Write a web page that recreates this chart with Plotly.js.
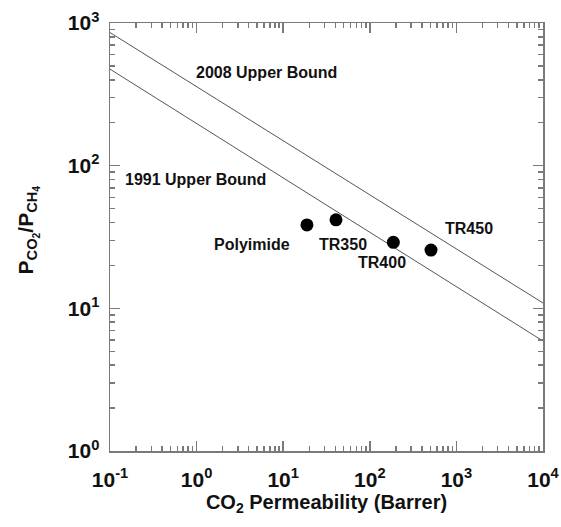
<!DOCTYPE html>
<html>
<head>
<meta charset="utf-8">
<script src="https://cdn.plot.ly/plotly-3.0.1.min.js"></script>
<style>
  html, body { margin: 0; padding: 0; background: #fff; }
  #chart { width: 561px; height: 527px; }
</style>
</head>
<body>
<div id="chart"></div>
<script>
// CO2/CH4 selectivity versus CO2 permeability (log-log)
const membranes = ['Polyimide', 'TR350', 'TR400', 'TR450'];
const permeability = [18.8, 40.7, 187, 509];     // Barrer
const selectivity = [38.4, 41.7, 29.0, 25.6];    // P_CO2 / P_CH4

// Upper bound lines, end points across the plotted permeability range
const boundPerm = [0.1, 10000];
const bound2008 = [857, 10.9];
const bound1991 = [475, 5.9];

// Label positions (data units)
const labelText = ['2008 Upper Bound', '1991 Upper Bound', 'Polyimide', 'TR350', 'TR400', 'TR450'];
const labelX = [6.33, 0.97, 4.37, 48.4, 137, 1416];
const labelY = [447, 79.4, 27.8, 27.8, 20.8, 36.0];

const xTickVals = [0.1, 1, 10, 100, 1000, 10000];
const xTickText = ['10<sup>-1</sup>', '10<sup>0</sup>', '10<sup>1</sup>', '10<sup>2</sup>', '10<sup>3</sup>', '10<sup>4</sup>'];
const yTickVals = [1, 10, 100, 1000];
const yTickText = ['10<sup>0</sup>', '10<sup>1</sup>', '10<sup>2</sup>', '10<sup>3</sup>'];

const FONT = 'Arial, "Liberation Sans", sans-serif';
const AXIS_GREY = '#7a7a7a';

const traces = [
  {
    x: boundPerm, y: bound2008, mode: 'lines', type: 'scatter',
    line: { color: '#555', width: 1 }, hoverinfo: 'skip', showlegend: false
  },
  {
    x: boundPerm, y: bound1991, mode: 'lines', type: 'scatter',
    line: { color: '#555', width: 1 }, hoverinfo: 'skip', showlegend: false
  },
  {
    x: permeability, y: selectivity, text: membranes, mode: 'markers', type: 'scatter',
    marker: { color: '#000', size: 13 }, showlegend: false
  }
];

const annotations = labelText.map((t, i) => ({
  x: Math.log10(labelX[i]), y: Math.log10(labelY[i]), xref: 'x', yref: 'y',
  text: t, showarrow: false,
  font: { family: FONT, size: 16, color: '#111', weight: 'bold' }
}));

// Vertical y-axis title
annotations.push({
  xref: 'paper', yref: 'paper', x: -0.19, y: 0.517,
  xanchor: 'center', yanchor: 'middle', textangle: -90, showarrow: false,
  text: 'P<sub>CO<sub>2</sub></sub>/P<sub>CH<sub>4</sub></sub>',
  font: { family: FONT, size: 21, color: '#111', weight: 'bold' }
});

const minorCommon = { dtick: 'D1', ticks: 'inside', ticklen: 5, tickwidth: 1.5, tickcolor: AXIS_GREY, showgrid: false };

const axisCommon = {
  type: 'log',
  showgrid: false, zeroline: false,
  showline: true, linecolor: AXIS_GREY, linewidth: 1.5, mirror: 'ticks',
  ticks: 'inside', ticklen: 10, tickwidth: 1.5, tickcolor: AXIS_GREY,
  tickmode: 'array',
  tickfont: { family: FONT, size: 21, color: '#111', weight: 'bold' },
  minor: minorCommon
};

const layout = {
  width: 561, height: 527,
  margin: { l: 110, r: 18, t: 23, b: 76 },
  paper_bgcolor: '#fff', plot_bgcolor: '#fff',
  xaxis: Object.assign({}, axisCommon, {
    range: [-1, 4],
    tickvals: xTickVals, ticktext: xTickText,
    ticklabelstandoff: 9,
    title: { text: 'CO<sub>2</sub> Permeability (Barrer)', standoff: 4,
      font: { family: FONT, size: 20, color: '#111', weight: 'bold' } }
  }),
  yaxis: Object.assign({}, axisCommon, {
    range: [0, 3],
    tickvals: yTickVals, ticktext: yTickText,
    ticklabelstandoff: 5
  }),
  annotations: annotations
};

Plotly.newPlot('chart', traces, layout, { displayModeBar: false, staticPlot: true });
</script>
</body>
</html>
